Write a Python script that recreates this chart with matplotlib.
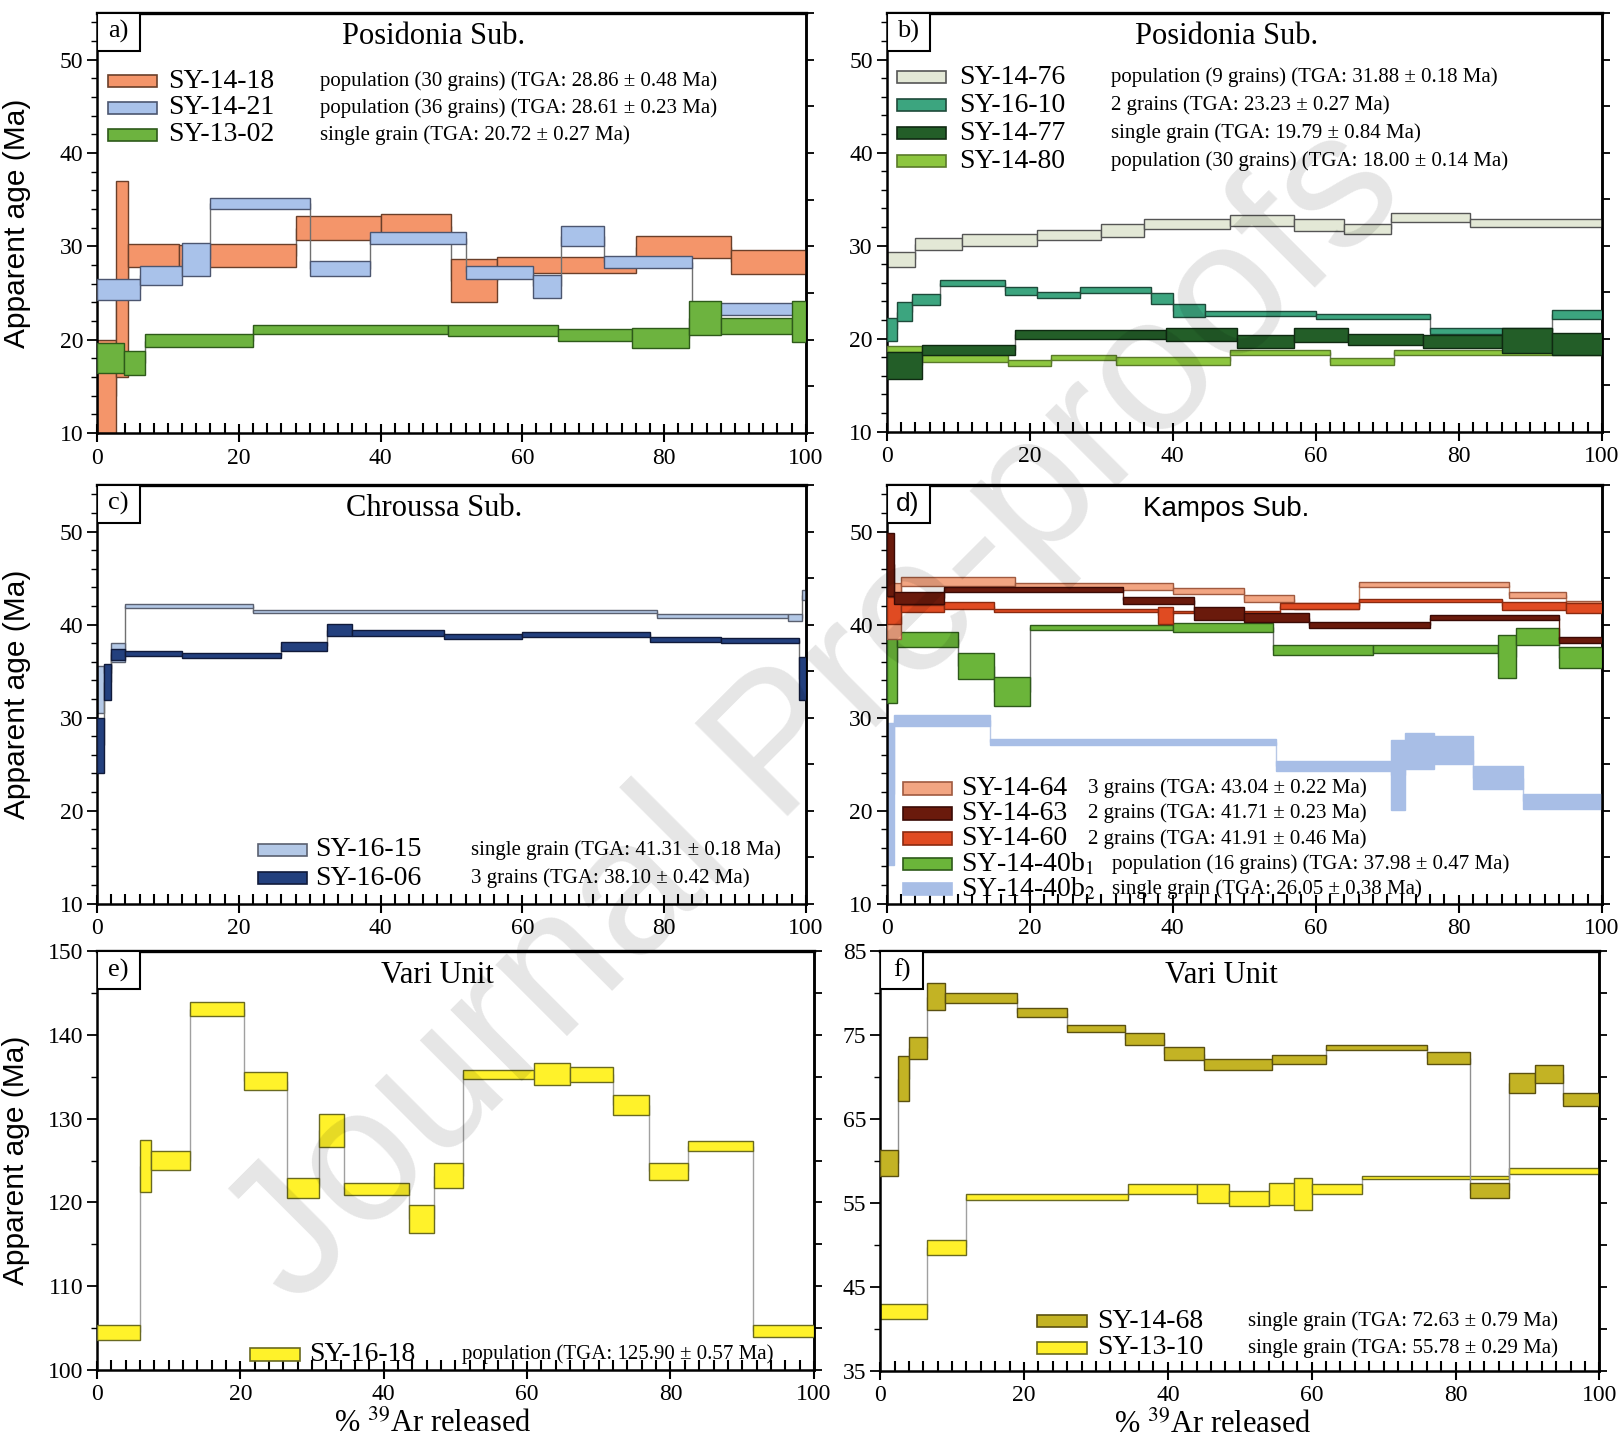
import numpy as np
import matplotlib.pyplot as plt
from matplotlib.patches import Rectangle
from matplotlib.ticker import MultipleLocator

plt.rcParams['font.family'] = ['Liberation Serif', 'DejaVu Serif']
plt.rcParams['mathtext.fontset'] = 'stix'

# ---- data: cumulative %39Ar step edges, apparent age, 1-sigma box half-height (Ma)
# panel a - Posidonia Sub.
a_1418_x = [0, 2.7, 4.3, 11.5, 15.5, 28, 40, 50, 56.5, 76, 89.5, 100]
a_1418_age = [14.0, 26.5, 29.0, 28.6, 29.0, 32.0, 32.2, 26.3, 28.0, 29.9, 28.3]
a_1418_err = [6.0, 10.5, 1.2, 1.5, 1.2, 1.3, 1.3, 2.3, 0.9, 1.2, 1.3]
a_1421_x = [0, 6.1, 12, 16, 30, 38.5, 52, 61.5, 65.5, 71.5, 84, 100]
a_1421_age = [25.4, 26.9, 28.6, 34.6, 27.6, 30.9, 27.2, 25.7, 31.1, 28.3, 23.3]
a_1421_err = [1.1, 1.0, 1.8, 0.6, 0.8, 0.65, 0.7, 1.25, 1.1, 0.65, 0.65]
a_1302_x = [0, 3.8, 6.8, 22, 49.5, 65, 75.5, 83.5, 88, 98, 100]
a_1302_age = [18.0, 17.5, 19.9, 21.1, 21.0, 20.5, 20.2, 22.3, 21.5, 21.9]
a_1302_err = [1.6, 1.3, 0.7, 0.5, 0.6, 0.65, 1.1, 1.85, 0.85, 2.2]

# panel b - Posidonia Sub.
b_1476_x = [0, 4, 10.5, 21, 30, 36, 48, 57, 64, 70.5, 81.5, 100]
b_1476_age = [28.5, 30.2, 30.6, 31.1, 31.6, 32.3, 32.7, 32.2, 31.8, 33.0, 32.4]
b_1476_err = [0.8, 0.65, 0.6, 0.55, 0.7, 0.55, 0.55, 0.6, 0.55, 0.45, 0.45]
b_1610_x = [0, 1.5, 3.5, 7.5, 16.5, 21, 27, 37, 40, 44.5, 60, 76, 93, 100]
b_1610_age = [21.0, 22.9, 24.2, 26.0, 25.1, 24.7, 25.2, 24.3, 23.0, 22.7, 22.4, 20.8, 22.6]
b_1610_err = [1.25, 1.0, 0.6, 0.3, 0.45, 0.35, 0.35, 0.55, 0.7, 0.25, 0.25, 0.3, 0.45]
b_1477_x = [0, 5, 18, 39, 49, 57, 64.5, 75, 86, 93, 100]
b_1477_age = [17.1, 18.75, 20.45, 20.4, 19.7, 20.35, 19.9, 19.7, 19.75, 19.4]
b_1477_err = [1.45, 0.55, 0.45, 0.7, 0.7, 0.75, 0.6, 0.7, 1.35, 1.15]
b_1480_x = [0, 5, 17, 23, 32, 48, 62, 71, 100]
b_1480_age = [18.9, 17.85, 17.35, 17.95, 17.55, 18.5, 17.5, 18.5]
b_1480_err = [0.3, 0.35, 0.35, 0.25, 0.45, 0.3, 0.4, 0.3]

# panel c - Chroussa Sub.
c_1615_x = [0, 1.0, 2.0, 4.0, 22, 79, 97.5, 99.5, 100]
c_1615_age = [33.0, 35.2, 37.0, 42.0, 41.4, 40.95, 40.75, 43.2]
c_1615_err = [2.5, 0.4, 1.05, 0.2, 0.2, 0.2, 0.35, 0.55]
c_1606_x = [0, 1, 2, 4, 12, 26, 32.5, 36, 49, 60, 78, 88, 99, 100]
c_1606_age = [27.0, 33.85, 36.8, 36.9, 36.7, 37.65, 39.4, 39.1, 38.75, 38.95, 38.4, 38.3, 34.2]
c_1606_err = [3.0, 1.95, 0.6, 0.3, 0.25, 0.45, 0.65, 0.3, 0.25, 0.25, 0.3, 0.25, 2.3]

# panel d - Kampos Sub.
d_1464_x = [0, 2, 18, 40, 50, 57, 66, 87, 95, 100]
d_1464_age = [41.5, 44.6, 44.1, 43.6, 42.8, 42.0, 44.3, 43.2, 42.0]
d_1464_err = [3.0, 0.5, 0.35, 0.3, 0.35, 0.35, 0.25, 0.3, 0.5]
d_1463_x = [0, 1, 8, 33, 43, 50, 59, 76, 94, 100]
d_1463_age = [46.5, 42.9, 43.75, 42.6, 41.2, 40.75, 39.95, 40.75, 38.35]
d_1463_err = [3.4, 0.65, 0.25, 0.4, 0.7, 0.45, 0.35, 0.25, 0.35]
d_1460_x = [0, 2, 8, 15, 38, 40, 55, 66, 86, 95, 100]
d_1460_age = [41.55, 41.75, 42.05, 41.55, 41.0, 41.35, 42.0, 42.6, 42.0, 41.75]
d_1460_err = [1.45, 0.35, 0.35, 0.15, 0.9, 0.15, 0.35, 0.2, 0.45, 0.55]
d_40b1_x = [0, 1.5, 10, 15, 20, 40, 54, 68, 85.5, 88, 94, 100]
d_40b1_age = [36.0, 38.4, 35.5, 32.8, 39.7, 39.7, 37.25, 37.35, 36.55, 38.7, 36.45]
d_40b1_err = [4.4, 0.8, 1.4, 1.6, 0.3, 0.5, 0.55, 0.45, 2.3, 0.9, 1.15]
d_40b2_x = [0, 1, 14.5, 54.5, 70.5, 72.5, 76.5, 82, 89, 100]
d_40b2_age = [21.75, 29.7, 27.35, 24.8, 23.85, 26.4, 26.5, 23.55, 21.0]
d_40b2_err = [7.65, 0.6, 0.3, 0.5, 3.75, 1.95, 1.5, 1.25, 0.8]

# panel e - Vari Unit
e_1618_x = [0, 6, 7.5, 13, 20.5, 26.5, 31, 34.5, 43.5, 47, 51, 61, 66, 72, 77, 82.5, 91.5, 100]
e_1618_age = [104.5, 124.4, 125.0, 143.1, 134.5, 121.7, 128.6, 121.6, 118.0, 123.2,
              135.3, 135.3, 135.3, 131.6, 123.7, 126.7, 104.6]
e_1618_err = [0.9, 3.1, 1.1, 0.8, 1.1, 1.2, 2.0, 0.7, 1.7, 1.5, 0.5, 1.3, 0.9, 1.2, 1.0, 0.6, 0.7]

# panel f - Vari Unit
f_1468_x = [0, 2.5, 4, 6.5, 9, 19, 26, 34, 39.5, 45, 54.5, 62, 76, 82, 87.5, 91, 95, 100]
f_1468_age = [59.75, 69.8, 73.5, 79.6, 79.4, 77.7, 75.8, 74.5, 72.8, 71.5, 72.1, 73.5,
              72.3, 56.5, 69.3, 70.35, 67.3]
f_1468_err = [1.6, 2.7, 1.3, 1.6, 0.6, 0.5, 0.4, 0.7, 0.8, 0.7, 0.5, 0.3, 0.7, 0.9, 1.2, 1.05, 0.8]
f_1310_x = [0, 6.5, 12, 34.5, 44, 48.5, 54, 57.5, 60, 67, 87.5, 100]
f_1310_age = [42.0, 49.7, 55.7, 56.6, 56.1, 55.5, 56.1, 56.1, 56.6, 58.0, 58.8]
f_1310_err = [0.9, 0.9, 0.3, 0.6, 1.1, 0.9, 1.3, 1.9, 0.6, 0.2, 0.4]


def spectrum(ax, edges, age, err, fc, ec, z, conn='#707070'):
    edges = np.asarray(edges, float)
    age = np.asarray(age, float)
    err = np.asarray(err, float)
    ax.vlines(edges[1:-1], np.minimum(age[:-1], age[1:]), np.maximum(age[:-1], age[1:]),
              colors=conn, lw=1.0, zorder=z - 0.5)
    ax.bar(edges[:-1], 2 * err, width=np.diff(edges), bottom=age - err, align='edge',
           color=fc, edgecolor=ec, linewidth=1.0, zorder=z)


def setup(ax, ylim, yticks, yminor, title, tag, sans=False):
    ax.set_xlim(0, 100)
    ax.set_ylim(*ylim)
    ax.xaxis.set_major_locator(MultipleLocator(20))
    ax.xaxis.set_minor_locator(MultipleLocator(2))
    ax.set_yticks(yticks)
    ax.yaxis.set_minor_locator(MultipleLocator(yminor))
    for s in ax.spines.values():
        s.set_linewidth(1.8)
    ax.spines['top'].set_linewidth(2.4)
    ax.tick_params(axis='x', which='major', direction='inout', length=13, width=1.5,
                   labelsize=17, pad=4)
    ax.tick_params(axis='x', which='minor', direction='in', length=7, width=1.5)
    ax.tick_params(axis='y', which='major', direction='out', length=7, width=1.3,
                   labelsize=17, pad=3)
    ax.tick_params(axis='y', which='minor', direction='out', length=4, width=1.0)
    sec = ax.secondary_yaxis('right')
    sec.set_yticks(np.arange(ylim[0], ylim[1] + 0.1, 5))
    sec.tick_params(direction='out', length=6, width=1.3, labelright=False)
    sec.spines['right'].set_linewidth(1.8)
    fam = ['Liberation Sans'] if sans else ['Liberation Serif']
    fs = 20 if sans else 22
    ax.text(0.475, 0.943, title, transform=ax.transAxes, ha='center', va='center',
            fontsize=fs, family=fam, zorder=10)
    ax.add_patch(Rectangle((0, 0.91), 0.06, 0.09, transform=ax.transAxes, fc='white',
                           ec='black', lw=1.5, zorder=9))
    ax.text(0.03, 0.955, tag, transform=ax.transAxes, ha='center', va='center',
            fontsize=19, family=fam, zorder=10)


def legend_row(ax, x0, y, name, desc, fc, ec, xname, xdesc, w=0.069, h=0.03):
    ax.add_patch(Rectangle((x0, y - h / 2), w, h, transform=ax.transAxes, fc=fc, ec=ec,
                           lw=1.2, zorder=8))
    ax.text(xname, y, name, transform=ax.transAxes, va='center', fontsize=20, zorder=8)
    ax.text(xdesc, y, desc, transform=ax.transAxes, va='center', fontsize=15, zorder=8)


fig = plt.figure(figsize=(16.18, 14.48), dpi=100)
ax_a = fig.add_axes([0.060, 0.701, 0.438, 0.290])
ax_b = fig.add_axes([0.548, 0.702, 0.442, 0.289])
ax_c = fig.add_axes([0.060, 0.376, 0.438, 0.289])
ax_d = fig.add_axes([0.548, 0.376, 0.442, 0.289])
ax_e = fig.add_axes([0.060, 0.054, 0.443, 0.289])
ax_f = fig.add_axes([0.544, 0.0535, 0.4445, 0.2895])

col = {
    '1418': ('#F4956A', '#6a3f2a'), '1421': ('#A9C2EA', '#4c5670'), '1302': ('#6DB33F', '#2e5a1a'),
    '1476': ('#E3E8D6', '#555555'), '1610': ('#3CA57F', '#1e4a3a'), '1477': ('#235E28', '#0f2a12'),
    '1480': ('#8DC63F', '#5a7a2a'), '1615': ('#B3C8E6', '#5a6070'), '1606': ('#23407E', '#101a3a'),
    '1464': ('#F2A582', '#a05a40'), '1463': ('#6A1A0C', '#3a0a05'), '1460': ('#E04B22', '#8a2a10'),
    '40b1': ('#6BB53A', '#2e5a1a'), '40b2': ('#A8BEE6', '#A8BEE6'), '1618': ('#FFF22A', '#6a6a20'),
    '1468': ('#C3B324', '#5a5010'), '1310': ('#FFF02A', '#6a6a20'),
}

# a
spectrum(ax_a, a_1418_x, a_1418_age, a_1418_err, *col['1418'], 2)
spectrum(ax_a, a_1421_x, a_1421_age, a_1421_err, *col['1421'], 3)
spectrum(ax_a, a_1302_x, a_1302_age, a_1302_err, *col['1302'], 4)
setup(ax_a, (10, 55), [10, 20, 30, 40, 50], 2, 'Posidonia Sub.', 'a)')
for i, (k, n, d) in enumerate([('1418', 'SY-14-18', 'population (30 grains) (TGA: 28.86 ± 0.48 Ma)'),
                               ('1421', 'SY-14-21', 'population (36 grains) (TGA: 28.61 ± 0.23 Ma)'),
                               ('1302', 'SY-13-02', 'single grain (TGA: 20.72 ± 0.27 Ma)')]):
    legend_row(ax_a, 0.015, 0.838 - i * 0.064, n, d, *col[k], 0.10, 0.314)

# b
spectrum(ax_b, b_1476_x, b_1476_age, b_1476_err, *col['1476'], 2)
spectrum(ax_b, b_1610_x, b_1610_age, b_1610_err, *col['1610'], 3)
spectrum(ax_b, b_1480_x, b_1480_age, b_1480_err, *col['1480'], 4)
spectrum(ax_b, b_1477_x, b_1477_age, b_1477_err, *col['1477'], 5)
setup(ax_b, (10, 55), [10, 20, 30, 40, 50], 2, 'Posidonia Sub.', 'b)')
for i, (k, n, d) in enumerate([('1476', 'SY-14-76', 'population (9 grains) (TGA: 31.88 ± 0.18 Ma)'),
                               ('1610', 'SY-16-10', '2 grains (TGA: 23.23 ± 0.27 Ma)'),
                               ('1477', 'SY-14-77', 'single grain (TGA: 19.79 ± 0.84 Ma)'),
                               ('1480', 'SY-14-80', 'population (30 grains) (TGA: 18.00 ± 0.14 Ma)')]):
    legend_row(ax_b, 0.0145, 0.847 - i * 0.067, n, d, *col[k], 0.101, 0.314)

# c
spectrum(ax_c, c_1615_x, c_1615_age, c_1615_err, *col['1615'], 2)
spectrum(ax_c, c_1606_x, c_1606_age, c_1606_err, *col['1606'], 3)
setup(ax_c, (10, 55), [10, 20, 30, 40, 50], 2, 'Chroussa Sub.', 'c)')
legend_row(ax_c, 0.227, 0.128, 'SY-16-15', 'single grain (TGA: 41.31 ± 0.18 Ma)', *col['1615'], 0.307, 0.527)
legend_row(ax_c, 0.227, 0.061, 'SY-16-06', '3 grains (TGA: 38.10 ± 0.42 Ma)', *col['1606'], 0.307, 0.527)

# d
spectrum(ax_d, d_40b2_x, d_40b2_age, d_40b2_err, *col['40b2'], 2, conn='#b8c8e6')
spectrum(ax_d, d_40b1_x, d_40b1_age, d_40b1_err, *col['40b1'], 3)
spectrum(ax_d, d_1464_x, d_1464_age, d_1464_err, *col['1464'], 4, conn='#c08060')
spectrum(ax_d, d_1460_x, d_1460_age, d_1460_err, *col['1460'], 5, conn='#b04020')
spectrum(ax_d, d_1463_x, d_1463_age, d_1463_err, *col['1463'], 6, conn='#5a1a0c')
setup(ax_d, (10, 55), [10, 20, 30, 40, 50], 2, 'Kampos Sub.', 'd)', sans=True)
rows_d = [('1464', 'SY-14-64', '3 grains (TGA: 43.04 ± 0.22 Ma)', 0.282),
          ('1463', 'SY-14-63', '2 grains (TGA: 41.71 ± 0.23 Ma)', 0.282),
          ('1460', 'SY-14-60', '2 grains (TGA: 41.91 ± 0.46 Ma)', 0.282),
          ('40b1', 'SY-14-40b$_1$', 'population (16 grains) (TGA: 37.98 ± 0.47 Ma)', 0.315),
          ('40b2', 'SY-14-40b$_2$', 'single grain (TGA: 26.05 ± 0.38 Ma)', 0.315)]
for i, (k, n, d, xd) in enumerate(rows_d):
    legend_row(ax_d, 0.023, 0.275 - i * 0.06, n, d, *col[k], 0.104, xd)

# e
spectrum(ax_e, e_1618_x, e_1618_age, e_1618_err, *col['1618'], 3, conn='#a0a0a0')
setup(ax_e, (100, 150), [100, 110, 120, 130, 140, 150], 5, 'Vari Unit', 'e)')
legend_row(ax_e, 0.214, 0.037, 'SY-16-18', 'population (TGA: 125.90 ± 0.57 Ma)', *col['1618'], 0.296, 0.509)

# f
spectrum(ax_f, f_1310_x, f_1310_age, f_1310_err, *col['1310'], 2, conn='#a0a0a0')
spectrum(ax_f, f_1468_x, f_1468_age, f_1468_err, *col['1468'], 3, conn='#909090')
setup(ax_f, (35, 85), [35, 45, 55, 65, 75, 85], 5, 'Vari Unit', 'f)')
legend_row(ax_f, 0.218, 0.118, 'SY-14-68', 'single grain (TGA: 72.63 ± 0.79 Ma)', *col['1468'], 0.301, 0.512)
legend_row(ax_f, 0.218, 0.054, 'SY-13-10', 'single grain (TGA: 55.78 ± 0.29 Ma)', *col['1310'], 0.301, 0.512)

for ax in (ax_a, ax_c, ax_e):
    ax.set_ylabel('Apparent age (Ma)', fontsize=21.5, family=['Liberation Sans'])
    ax.yaxis.set_label_coords(-0.093, 0.5)
for ax, xc in ((ax_e, 0.469), (ax_f, 0.462)):
    ax.set_xlabel('% $^{39}$Ar released', fontsize=22)
    ax.xaxis.set_label_coords(xc, -0.095)

# "Journal Pre-proofs" watermark
fig.text(0.505, 0.505, 'Journal Pre-proofs', rotation=45, ha='center', va='center',
         rotation_mode='anchor', fontsize=138, family=['Liberation Sans'],
         color='black', alpha=0.1, zorder=20)

fig.savefig('out.png', dpi=100)
